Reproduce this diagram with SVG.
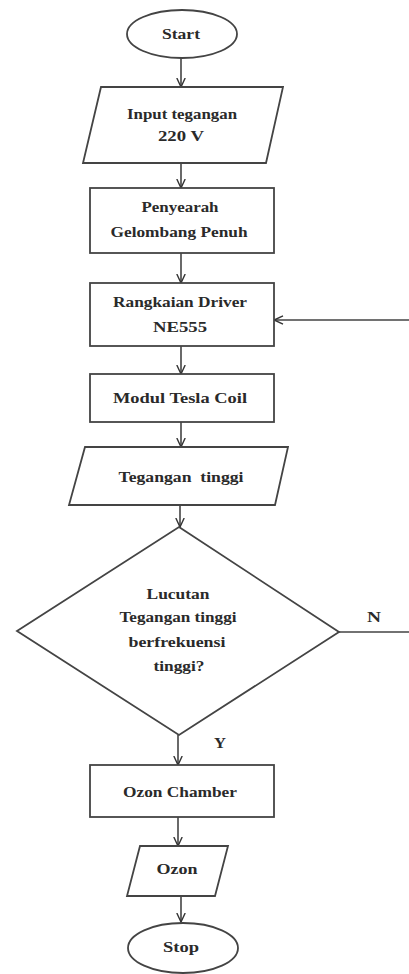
<svg xmlns="http://www.w3.org/2000/svg" width="409" height="974" viewBox="0 0 409 974">
<defs>
<marker id="arr" viewBox="0 0 10 10" refX="9.5" refY="5" markerWidth="10" markerHeight="10" markerUnits="userSpaceOnUse" orient="auto">
<path d="M0.5,0.8 L9.5,5 L0.5,9.2" fill="none" stroke="#333" stroke-width="1.4"/>
</marker>
<style>
.s{fill:#fff;stroke:#444;stroke-width:1.8}
.c{fill:none;stroke:#444;stroke-width:1.6}
text{font-family:"Liberation Serif","Times New Roman",serif;font-size:14.5px;font-weight:bold;fill:#2a2a2a;text-anchor:middle}
</style>
</defs>
<rect width="409" height="974" fill="#fff"/>
<g id="connectors">
<line class="c" x1="181" y1="58" x2="181" y2="87" marker-end="url(#arr)"/>
<line class="c" x1="181" y1="163" x2="181" y2="188" marker-end="url(#arr)"/>
<line class="c" x1="181" y1="253" x2="181" y2="283" marker-end="url(#arr)"/>
<line class="c" x1="181" y1="346" x2="181" y2="374" marker-end="url(#arr)"/>
<line class="c" x1="181" y1="422" x2="181" y2="447" marker-end="url(#arr)"/>
<line class="c" x1="180" y1="505" x2="180" y2="527" marker-end="url(#arr)"/>
<line class="c" x1="178" y1="735" x2="178" y2="765" marker-end="url(#arr)"/>
<line class="c" x1="178" y1="817" x2="178" y2="846" marker-end="url(#arr)"/>
<line class="c" x1="181" y1="896" x2="181" y2="922" marker-end="url(#arr)"/>
<path class="c" d="M339,632 H414 V320 H274" marker-end="url(#arr)"/>
<text x="374" y="622" textLength="14" lengthAdjust="spacingAndGlyphs">N</text>
<text x="220" y="748" textLength="12" lengthAdjust="spacingAndGlyphs">Y</text>
</g>
<g id="start">
<ellipse class="s" cx="182" cy="34" rx="55" ry="24"/>
<text x="181" y="39" textLength="38" lengthAdjust="spacingAndGlyphs">Start</text>
</g>
<g id="input">
<polygon class="s" points="101,87 283,87 266,163 83,163"/>
<text x="182" y="119" textLength="110" lengthAdjust="spacingAndGlyphs">Input tegangan</text>
<text x="181" y="141" textLength="46" lengthAdjust="spacingAndGlyphs">220 V</text>
</g>
<g id="penyearah">
<rect class="s" x="90" y="188" width="184" height="65"/>
<text x="180" y="212" textLength="77" lengthAdjust="spacingAndGlyphs">Penyearah</text>
<text x="179" y="237" textLength="137" lengthAdjust="spacingAndGlyphs">Gelombang Penuh</text>
</g>
<g id="driver">
<rect class="s" x="90" y="283" width="184" height="63"/>
<text x="180" y="307" textLength="134" lengthAdjust="spacingAndGlyphs">Rangkaian Driver</text>
<text x="180" y="332" textLength="54" lengthAdjust="spacingAndGlyphs">NE555</text>
</g>
<g id="tesla">
<rect class="s" x="90" y="374" width="184" height="48"/>
<text x="180" y="403" textLength="134" lengthAdjust="spacingAndGlyphs">Modul Tesla Coil</text>
</g>
<g id="tegangan">
<polygon class="s" points="85,447 288,447 275,505 69,505"/>
<text x="181" y="482" textLength="125" lengthAdjust="spacingAndGlyphs" xml:space="preserve">Tegangan  tinggi</text>
</g>
<g id="decision">
<polygon class="s" points="179,527 339,632 179,735 17,631"/>
<text x="178" y="599" textLength="63" lengthAdjust="spacingAndGlyphs">Lucutan</text>
<text x="178" y="622" textLength="117" lengthAdjust="spacingAndGlyphs">Tegangan tinggi</text>
<text x="177" y="647" textLength="97" lengthAdjust="spacingAndGlyphs">berfrekuensi</text>
<text x="179" y="671" textLength="51" lengthAdjust="spacingAndGlyphs">tinggi?</text>
</g>
<g id="chamber">
<rect class="s" x="90" y="765" width="184" height="52"/>
<text x="180" y="797" textLength="114" lengthAdjust="spacingAndGlyphs">Ozon Chamber</text>
</g>
<g id="ozon">
<polygon class="s" points="140,846 228,846 215,896 127,896"/>
<text x="177" y="874" textLength="41" lengthAdjust="spacingAndGlyphs">Ozon</text>
</g>
<g id="stop">
<ellipse class="s" cx="183" cy="948" rx="55" ry="25"/>
<text x="181" y="952" textLength="36" lengthAdjust="spacingAndGlyphs">Stop</text>
</g>
</svg>
